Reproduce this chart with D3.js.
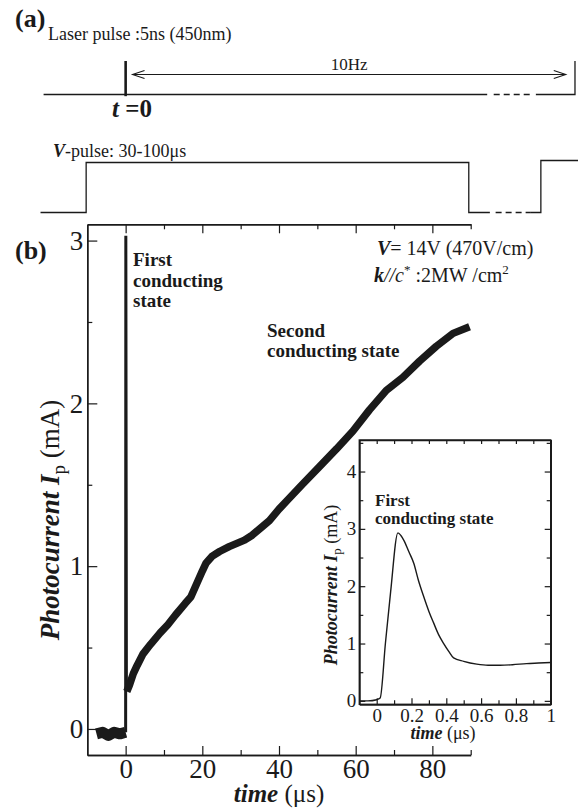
<!DOCTYPE html>
<html>
<head>
<meta charset="utf-8">
<script src="https://cdn.jsdelivr.net/npm/d3@7"></script>
<style>
  body { margin: 0; background: #fff; }
  svg { display: block; }
  svg text { font-family: "Liberation Serif", "Times New Roman", "DejaVu Serif", serif; }
</style>
</head>
<body>
<div id="chart"></div>
<script>
// ---- data ----
// main trace, time in us, photocurrent in mA
const baseline = [[-7.6, -0.03], [-6, -0.02], [-4.5, -0.04], [-3, -0.02], [-1.5, -0.03], [0, -0.02]];
const spike = [[0, -0.02], [0.05, 3.03], [0.2, 0.24]];
const trace = [
  [0.3, 0.23], [1, 0.27], [2, 0.34], [3, 0.39], [4.5, 0.46], [6.5, 0.52], [9, 0.59],
  [11, 0.64], [13, 0.70], [15.5, 0.77], [17, 0.81], [18.5, 0.89], [20, 0.97], [21, 1.02],
  [22.5, 1.06], [24.5, 1.09], [27, 1.12], [29, 1.14], [31, 1.16], [33, 1.19], [35.5, 1.24],
  [37.5, 1.28], [40, 1.35], [42, 1.40], [46, 1.50], [50.5, 1.61], [55, 1.72], [59.3, 1.83],
  [63.6, 1.96], [68, 2.08], [72.3, 2.16], [76.7, 2.26], [81, 2.35], [85.4, 2.43], [89.7, 2.47]
];
const mainXMajor = [0, 20, 40, 60, 80];
const mainXMinor = [10, 30, 50, 70, 90];
const mainYMajor = [0, 1, 2, 3];
const mainYMinor = [0.5, 1.5, 2.5];

// inset trace
const inset = [
  [-0.1, 0.0], [-0.05, 0.0], [0, 0.02], [0.02, 0.05], [0.05, 1.0], [0.08, 1.9],
  [0.122, 2.93], [0.14, 2.88], [0.156, 2.8], [0.185, 2.6], [0.213, 2.4], [0.24, 2.1],
  [0.27, 1.82], [0.3, 1.56], [0.327, 1.36], [0.355, 1.16], [0.385, 1.0], [0.415, 0.86],
  [0.442, 0.75], [0.5, 0.69], [0.575, 0.64], [0.64, 0.62], [0.709, 0.62], [0.78, 0.63],
  [0.861, 0.65], [0.93, 0.66], [1.0, 0.67]
];
const insetXMajor = [0, 0.2, 0.4, 0.6, 0.8, 1];
const insetXMinor = [0.1, 0.3, 0.5, 0.7, 0.9];
const insetYMajor = [0, 1, 2, 3, 4];
const insetYMinor = [0.5, 1.5, 2.5, 3.5, 4.5];

// timing diagram (a), same time axis, level 0 = low, 1 = high
const laserSolid1 = [[-21.4, 0], [94.3, 0]];
const laserDash = [[96, 0], [106, 0]];
const laserSolid2 = [[107, 0], [117.2, 0], [117.2, 1]];
const laserMarker = [[0, -0.05], [0, 1]];
const periodArrow = [1.8, 114.8];
const vSolid1 = [[-22.2, 0], [-10.3, 0], [-10.3, 1], [89.5, 1], [89.5, 0], [95, 0]];
const vDash = [[96.5, 0], [105.5, 0]];
const vSolid2 = [[105.5, 0], [108.3, 0], [108.3, 1.04], [118, 1.04]];

// ---- drawing ----
const W = 578, H = 808;
const svg = d3.select("#chart").append("svg").attr("width", W).attr("height", H);
const ink = "#1a1a1a";
const serif = "'Liberation Serif', 'Times New Roman', serif";

const x = d3.scaleLinear().domain([-10, 90]).range([87.3, 470.7]);
const y = d3.scaleLinear().domain([-0.16, 3.1]).range([755, 224.3]);

function styleAxis(g, size) {
  g.attr("font-family", serif).attr("font-size", size);
  g.selectAll("path.domain").attr("stroke", ink).attr("stroke-width", 1.4);
  g.selectAll(".tick line").attr("stroke", ink).attr("stroke-width", 1.2);
  g.selectAll(".tick text").attr("fill", ink);
}

// main axes
svg.append("g").attr("transform", "translate(0,755)")
  .call(d3.axisBottom(x).tickValues(mainXMajor).tickSize(-9).tickSizeOuter(0).tickPadding(4))
  .call(g => styleAxis(g, 27));
svg.append("g").attr("transform", "translate(0,755)")
  .call(d3.axisBottom(x).tickValues(mainXMinor).tickSize(-5).tickSizeOuter(0).tickFormat(""))
  .call(g => styleAxis(g, 27));
svg.append("g").attr("transform", "translate(0,224.3)")
  .call(d3.axisTop(x).tickValues(mainXMajor).tickSize(-9).tickSizeOuter(0).tickFormat(""))
  .call(g => styleAxis(g, 27));
svg.append("g").attr("transform", "translate(0,224.3)")
  .call(d3.axisTop(x).tickValues(mainXMinor).tickSize(-5).tickSizeOuter(0).tickFormat(""))
  .call(g => styleAxis(g, 27));
svg.append("g").attr("transform", "translate(87.3,0)")
  .call(d3.axisLeft(y).tickValues(mainYMajor).tickSize(-10).tickSizeOuter(0).tickPadding(4)
    .tickFormat(d3.format("d")))
  .call(g => styleAxis(g, 27));
svg.append("g").attr("transform", "translate(87.3,0)")
  .call(d3.axisLeft(y).tickValues(mainYMinor).tickSize(-5).tickSizeOuter(0).tickFormat(""))
  .call(g => styleAxis(g, 27));

const line = d3.line().x(d => x(d[0])).y(d => y(d[1]));
svg.append("path").attr("d", line(baseline)).attr("fill", "none")
  .attr("stroke", ink).attr("stroke-width", 11).attr("stroke-linejoin", "round");
svg.append("path").attr("d", line(spike)).attr("fill", "none")
  .attr("stroke", ink).attr("stroke-width", 3);
svg.append("path").attr("d", line(trace)).attr("fill", "none")
  .attr("stroke", ink).attr("stroke-width", 7.5).attr("stroke-linejoin", "round");

function txt(xp, yp, size) {
  return svg.append("text").attr("x", xp).attr("y", yp).attr("font-size", size)
    .attr("font-family", serif).attr("fill", ink);
}

// main titles
const xt = txt(279, 802, 25).attr("text-anchor", "middle");
xt.append("tspan").attr("font-weight", "bold").attr("font-style", "italic").text("time");
xt.append("tspan").text(" (μs)");

const yt = txt(0, 0, 27).attr("transform", "translate(59,520) rotate(-90)")
  .attr("text-anchor", "middle");
yt.append("tspan").attr("font-weight", "bold").attr("font-style", "italic").text("Photocurrent I");
yt.append("tspan").attr("font-size", 19).attr("dy", 6).text("p");
yt.append("tspan").attr("dy", -6).text(" (mA)");

// panel labels and notes
txt(15, 259, 26).attr("font-weight", "bold").text("(b)");
txt(15, 27, 26).attr("font-weight", "bold").text("(a)");

function boldLines(xp, yp, lines, size, gap) {
  const t = txt(xp, yp, size).attr("font-weight", "bold");
  lines.forEach((s, i) => t.append("tspan").attr("x", xp).attr("dy", i ? gap : 0).text(s));
}
boldLines(133, 266, ["First", "conducting", "state"], 19, 20.5);
boldLines(267, 337, ["Second", "conducting state"], 19, 20);

const vt = txt(377, 255, 20);
vt.append("tspan").attr("font-weight", "bold").attr("font-style", "italic").text("V");
vt.append("tspan").text("= 14V (470V/cm)");
const kt = txt(374, 282, 20);
kt.append("tspan").attr("font-weight", "bold").attr("font-style", "italic").text("k");
kt.append("tspan").attr("font-style", "italic").text("//c");
kt.append("tspan").attr("font-size", 13).attr("dy", -8).text("*");
kt.append("tspan").attr("dy", 8).text(" :2MW /cm");
kt.append("tspan").attr("font-size", 13).attr("dy", -8).text("2");

// inset
const ix = d3.scaleLinear().domain([-0.1, 1]).range([359.3, 550.7]);
const iy = d3.scaleLinear().domain([-0.06, 4.55]).range([704.3, 440]);
svg.append("rect").attr("x", 359.3).attr("y", 440).attr("width", 191.4).attr("height", 264.3)
  .attr("fill", "#fff").attr("stroke", ink).attr("stroke-width", 1.4);

svg.append("g").attr("transform", "translate(0,704.3)")
  .call(d3.axisBottom(ix).tickValues(insetXMajor).tickSize(-6).tickSizeOuter(0).tickPadding(4)
    .tickFormat(d3.format("")))
  .call(g => styleAxis(g, 19));
svg.append("g").attr("transform", "translate(0,704.3)")
  .call(d3.axisBottom(ix).tickValues(insetXMinor).tickSize(-4).tickSizeOuter(0).tickFormat(""))
  .call(g => styleAxis(g, 19));
svg.append("g").attr("transform", "translate(0,440)")
  .call(d3.axisTop(ix).tickValues(insetXMajor.concat(insetXMinor)).tickSize(-4).tickSizeOuter(0).tickFormat(""))
  .call(g => styleAxis(g, 19));
svg.append("g").attr("transform", "translate(359.3,0)")
  .call(d3.axisLeft(iy).tickValues(insetYMajor).tickSize(-6).tickSizeOuter(0).tickPadding(3)
    .tickFormat(d3.format("d")))
  .call(g => styleAxis(g, 19));
svg.append("g").attr("transform", "translate(359.3,0)")
  .call(d3.axisLeft(iy).tickValues(insetYMinor).tickSize(-4).tickSizeOuter(0).tickFormat(""))
  .call(g => styleAxis(g, 19));
svg.append("g").attr("transform", "translate(550.7,0)")
  .call(d3.axisRight(iy).tickValues(insetYMajor).tickSize(-6).tickSizeOuter(0).tickFormat(""))
  .call(g => styleAxis(g, 19));
svg.append("g").attr("transform", "translate(550.7,0)")
  .call(d3.axisRight(iy).tickValues(insetYMinor).tickSize(-4).tickSizeOuter(0).tickFormat(""))
  .call(g => styleAxis(g, 19));

svg.append("path")
  .attr("d", d3.line().x(d => ix(d[0])).y(d => iy(d[1])).curve(d3.curveMonotoneX)(inset))
  .attr("fill", "none").attr("stroke", ink).attr("stroke-width", 1.4);

const ixt = txt(443, 739, 18).attr("text-anchor", "middle");
ixt.append("tspan").attr("font-weight", "bold").attr("font-style", "italic").text("time");
ixt.append("tspan").text(" (μs)");
const iyt = txt(0, 0, 18).attr("transform", "translate(337,585) rotate(-90)")
  .attr("text-anchor", "middle");
iyt.append("tspan").attr("font-weight", "bold").attr("font-style", "italic").text("Photocurrent I");
iyt.append("tspan").attr("font-size", 13).attr("dy", 4).text("p");
iyt.append("tspan").attr("dy", -4).text(" (mA)");
boldLines(375, 506, ["First", "conducting state"], 17, 18);

// timing diagram (a)
const ly = d3.scaleLinear().domain([0, 1]).range([94.5, 61]);
const vy = d3.scaleLinear().domain([0, 1]).range([212.5, 162.5]);
const dl = yScale => d3.line().x(d => x(d[0])).y(d => yScale(d[1]));

txt(48, 40, 18).text("Laser pulse :5ns (450nm)");
[laserSolid1, laserSolid2].forEach(p => svg.append("path").attr("d", dl(ly)(p))
  .attr("fill", "none").attr("stroke", ink).attr("stroke-width", 1.3));
svg.append("path").attr("d", dl(ly)(laserDash)).attr("fill", "none")
  .attr("stroke", ink).attr("stroke-width", 1.3).attr("stroke-dasharray", "6,4");
svg.append("path").attr("d", dl(ly)(laserMarker)).attr("fill", "none")
  .attr("stroke", ink).attr("stroke-width", 2.6);

const ay = 74.5;
const ax0 = x(periodArrow[0]), ax1 = x(periodArrow[1]);
svg.append("line").attr("x1", ax0).attr("x2", ax1).attr("y1", ay).attr("y2", ay)
  .attr("stroke", ink).attr("stroke-width", 1.1);
svg.append("path").attr("d", `M${ax0 + 12},${ay - 4}L${ax0},${ay}L${ax0 + 12},${ay + 4}`)
  .attr("fill", "none").attr("stroke", ink).attr("stroke-width", 1.1);
svg.append("path").attr("d", `M${ax1 - 12},${ay - 4}L${ax1},${ay}L${ax1 - 12},${ay + 4}`)
  .attr("fill", "none").attr("stroke", ink).attr("stroke-width", 1.1);
txt((ax0 + ax1) / 2, 70, 17).attr("text-anchor", "middle").text("10Hz");

const t0 = txt(112, 117, 25).attr("font-weight", "bold");
t0.append("tspan").attr("font-style", "italic").text("t");
t0.append("tspan").text(" =0");

const vp = txt(53, 157, 18);
vp.append("tspan").attr("font-weight", "bold").attr("font-style", "italic").text("V");
vp.append("tspan").text("-pulse: 30-100μs");
[vSolid1, vSolid2].forEach(p => svg.append("path").attr("d", dl(vy)(p))
  .attr("fill", "none").attr("stroke", ink).attr("stroke-width", 1.3));
svg.append("path").attr("d", dl(vy)(vDash)).attr("fill", "none")
  .attr("stroke", ink).attr("stroke-width", 1.3).attr("stroke-dasharray", "6,4");
</script>
</body>
</html>
